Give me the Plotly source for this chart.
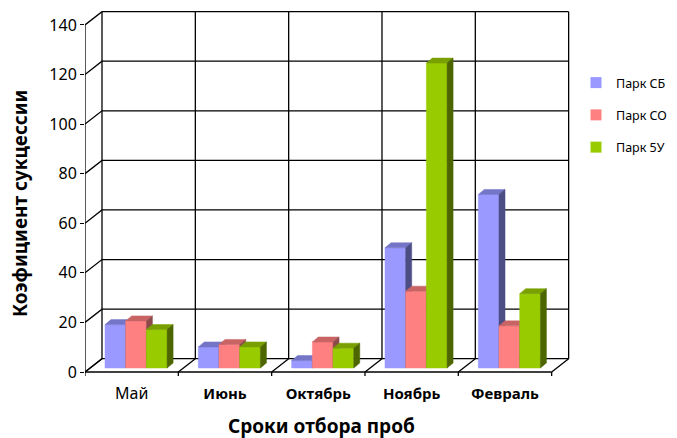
import plotly.graph_objects as go

# ---- data ----
categories = ["Май", "Июнь", "Октябрь", "Ноябрь", "Февраль"]
series_names = ["Парк СБ", "Парк СО", "Парк 5У"]
park_sb = [17.5, 8.5, 3, 48.5, 70]
park_so = [19, 9.5, 10.5, 31, 17]
park_5u = [15.5, 8.5, 8, 123, 30]
y_ticks = [0, 20, 40, 60, 80, 100, 120, 140]

front_colors = ["#9999FF", "#FF8080", "#99CC00"]
top_colors = ["#7575C8", "#C86464", "#79A000"]
side_colors = ["#4D4D85", "#8E4A4A", "#4D6600"]

# ---- geometry (pixel based scale -> data units) ----
W, H = 677, 438
L, R, T, B = 85, 106, 10, 55
pw, ph = W - L - R, H - T - B
PX_X = 93.33      # px per category
PX_Y = 2.479      # px per value unit
FLOOR_PX = 372    # pixel row of front floor (value 0)
x_range = [0, pw / PX_X]
y_range = [-(H - B - FLOOR_PX) / PX_Y, (FLOOR_PX - T) / PX_Y]

DX, DY = 17 / PX_X, 13.3 / PX_Y          # wall depth
BDX, BDY = 6 / PX_X, 5 / PX_Y            # bar depth
BAR_W = 20.7 / PX_X
BAR_OFF = 20 / PX_X
BAR_BASE = 4 / PX_Y
ncat = len(categories)
ymax = y_ticks[-1]

fig = go.Figure()

# ---- walls, floor and gridlines ----
lx, ly = [], []
def seg(pts):
    for p in pts:
        lx.append(p[0]); ly.append(p[1])
    lx.append(None); ly.append(None)

seg([(0, 0), (0, ymax)])                          # front value axis
for v in y_ticks:
    seg([(0, v), (DX, v + DY), (ncat + DX, v + DY)])  # diagonal + back gridline
for k in range(ncat + 1):
    seg([(k + DX, DY), (k + DX, ymax + DY)])      # back wall verticals
    seg([(k, 0), (k + DX, DY)])                    # floor diagonals
    seg([(k, 0), (k, -4 / PX_Y)])                  # category tick marks
seg([(0, 0), (ncat, 0)])                          # front floor edge

fig.add_trace(go.Scatter(x=lx, y=ly, mode="lines", line=dict(color="black", width=1.3),
                         hoverinfo="skip", showlegend=False))

# ---- 3D bars ----
all_series = [park_sb, park_so, park_5u]
for si, vals in enumerate(all_series):
    fx, fy, tx, ty, sx, sy = [], [], [], [], [], []
    for ci, v in enumerate(vals):
        x0 = ci + BAR_OFF + si * BAR_W
        x1 = x0 + BAR_W
        y0 = BAR_BASE
        y1 = BAR_BASE + v
        fx += [x0, x1, x1, x0, x0, None]
        fy += [y0, y0, y1, y1, y0, None]
        tx += [x0, x1, x1 + BDX, x0 + BDX, x0, None]
        ty += [y1, y1, y1 + BDY, y1 + BDY, y1, None]
        sx += [x1, x1 + BDX, x1 + BDX, x1, x1, None]
        sy += [y0, y0 + BDY, y1 + BDY, y1, y0, None]
    for xs, ys, col in [(fx, fy, front_colors[si]), (tx, ty, top_colors[si]), (sx, sy, side_colors[si])]:
        fig.add_trace(go.Scatter(x=xs, y=ys, mode="lines", fill="toself", fillcolor=col,
                                 line=dict(color=col, width=0.5), hoverinfo="skip",
                                 showlegend=False))

# ---- legend entries ----
for si, name in enumerate(series_names):
    fig.add_trace(go.Scatter(x=[None], y=[None], mode="markers", name=name,
                             legendgroup=name,
                             marker=dict(symbol="square", size=11, color=front_colors[si])))

tick_text = ['<span style="font-size:16px">%s</span>' % categories[0]] + \
            ["<b>%s</b>" % c for c in categories[1:]]

fig.update_layout(
    width=W, height=H,
    margin=dict(l=L, r=R, t=T, b=B, autoexpand=False),
    plot_bgcolor="white", paper_bgcolor="white",
    font=dict(family="Noto Sans, Open Sans, sans-serif", color="black"),
    xaxis=dict(range=x_range, showgrid=False, zeroline=False, showline=False,
               tickvals=[i + 0.5 for i in range(ncat)], ticktext=tick_text,
               ticks="", tickfont=dict(size=15, color="black")),
    yaxis=dict(range=y_range, showgrid=False, zeroline=False, showline=False,
               tickvals=y_ticks, ticks="outside", ticklen=4, tickcolor="black",
               tickwidth=1.3, tickfont=dict(size=16, color="black")),
    legend=dict(x=(576 - L) / pw, y=(H - B - 68) / ph, xanchor="left", yanchor="top",
                font=dict(size=12.5, color="black"), tracegroupgap=13,
                traceorder="grouped", bgcolor="rgba(0,0,0,0)"),
    annotations=[
        dict(text="<b>Коэфициент сукцессии</b>", textangle=-90, showarrow=False,
             xref="paper", yref="paper", x=(20 - L) / pw, y=(H - B - 204) / ph,
             xanchor="center", yanchor="middle", font=dict(size=19, color="black")),
        dict(text="<b>Сроки отбора проб</b>", showarrow=False,
             xref="paper", yref="paper", x=(321 - L) / pw, y=(H - B - 426) / ph,
             xanchor="center", yanchor="middle", font=dict(size=19, color="black")),
    ],
)

fig.write_html("out.html")
